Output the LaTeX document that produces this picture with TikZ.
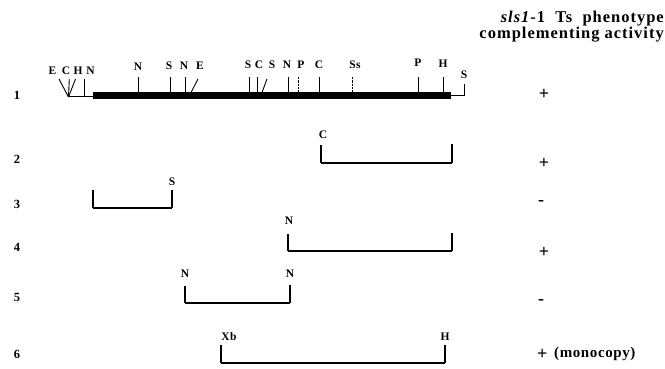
\documentclass[tikz,border=0pt]{standalone}
\usepackage{fontspec}
\setmainfont{Liberation Serif}[LetterSpace=4]
\newfontfamily\hdrfont{Liberation Serif}[LetterSpace=6]
\begin{document}
\begin{tikzpicture}[x=1pt,y=-1pt,
  lab/.style={font=\bfseries\fontsize{11.5}{11.5}\selectfont, inner sep=0pt},
  rownum/.style={font=\bfseries\fontsize{12.5}{12.5}\selectfont, inner sep=0pt},
  sign/.style={font=\bfseries\fontsize{18}{18}\selectfont, inner sep=0pt},
  mono/.style={font=\bfseries\fontsize{15}{15}\selectfont, inner sep=0pt},
  hdr/.style={font=\hdrfont\bfseries\fontsize{16.5}{13.5}\selectfont, inner sep=0pt, align=right},
  tickline/.style={line width=0.9pt},
  brokentick/.style={line width=0.9pt, dash pattern=on 2.5pt off 0.8pt},
  mapbar/.style={line width=7pt},
  thinline/.style={line width=1pt},
  brk/.style={line width=1.3pt},
  brkbase/.style={line width=2.6pt}]
\useasboundingbox (0,0) rectangle (665,369);

% header
\node[hdr, anchor=north east] (head) at (664,11) {\textit{sls1}-1\ \ Ts\ \ phenotype\\complementing activity};

% ---- row 1: map ----
\coordinate (b1) at (93,96);
\coordinate (b2) at (451,96);
\draw[mapbar] (b1) -- (b2);
\coordinate (v) at (68.5,97);
\coordinate (b1t) at (93,97);
\draw[thinline] (v) -- (b1t);
\coordinate (eT) at (59,79); \coordinate (cT) at (69.3,79); \coordinate (hT) at (75.5,79);
\draw[tickline] (eT) -- (v);
\draw[tickline] (cT) -- (v);
\draw[tickline] (hT) -- (v);
\coordinate (nT) at (84,79); \coordinate (nB) at (84,97);
\draw[tickline] (nT) -- (nB);
\foreach \x/\n in {138/a,170/b,185/c,249/d,257/e,288/f,319/g,418/h,443/i}{
  \coordinate (t\n) at (\x,77); \coordinate (u\n) at (\x,92.5);
  \draw[tickline] (t\n) -- (u\n);
}
\foreach \x/\n in {298/j,352/k}{
  \coordinate (t\n) at (\x,77); \coordinate (u\n) at (\x,92.5);
  \draw[brokentick] (t\n) -- (u\n);
}
\coordinate (eaT) at (198,79); \coordinate (eaB) at (191,92.5);
\draw[tickline] (eaT) -- (eaB);
\coordinate (sbT) at (267,79); \coordinate (sbB) at (262,92.5);
\draw[tickline] (sbT) -- (sbB);
\coordinate (r2) at (464,96); \coordinate (r3) at (464,84);
\draw[thinline] (b2) -- (r2) -- (r3);

\node[lab] (lE) at (52.5,71) {E};
\node[lab] (lC) at (66,71) {C};
\node[lab] (lH) at (78,71) {H};
\node[lab] (lN) at (90.5,71) {N};
\node[lab] (l1) at (138,67) {N};
\node[lab] (l2) at (169,66) {S};
\node[lab] (l3) at (184,66) {N};
\node[lab] (l4) at (200,66) {E};
\node[lab] (l5) at (248,65) {S};
\node[lab] (l6) at (259,65) {C};
\node[lab] (l7) at (272,65) {S};
\node[lab] (l8) at (287,65) {N};
\node[lab] (l9) at (301,65) {P};
\node[lab] (l10) at (319,65) {C};
\node[lab] (l11) at (355,65) {Ss};
\node[lab] (l12) at (418,63) {P};
\node[lab] (l13) at (443,64) {H};
\node[lab] (l14) at (464,75) {S};

% ---- brackets rows 2-6 ----
% row 2
\coordinate (p2a) at (321,145); \coordinate (p2b) at (321,163);
\coordinate (p2c) at (452,163); \coordinate (p2d) at (452,144);
\draw[brk] (p2a) -- (p2b); \draw[brk] (p2c) -- (p2d); \draw[brkbase] (p2b) -- (p2c);
\node[lab] (c2) at (323,135) {C};
% row 3
\coordinate (p3a) at (93,190); \coordinate (p3b) at (93,208);
\coordinate (p3c) at (172,208); \coordinate (p3d) at (172,190);
\draw[brk] (p3a) -- (p3b); \draw[brk] (p3c) -- (p3d); \draw[brkbase] (p3b) -- (p3c);
\node[lab] (s3) at (172,182) {S};
% row 4
\coordinate (p4a) at (288,234); \coordinate (p4b) at (288,251);
\coordinate (p4c) at (452,251); \coordinate (p4d) at (452,233);
\draw[brk] (p4a) -- (p4b); \draw[brk] (p4c) -- (p4d); \draw[brkbase] (p4b) -- (p4c);
\node[lab] (n4) at (289,221) {N};
% row 5
\coordinate (p5a) at (185,286); \coordinate (p5b) at (185,303);
\coordinate (p5c) at (290,303); \coordinate (p5d) at (290,285);
\draw[brk] (p5a) -- (p5b); \draw[brk] (p5c) -- (p5d); \draw[brkbase] (p5b) -- (p5c);
\node[lab] (n5a) at (185,274) {N};
\node[lab] (n5b) at (290,274) {N};
% row 6
\coordinate (p6a) at (221,345); \coordinate (p6b) at (221,363);
\coordinate (p6c) at (445,363); \coordinate (p6d) at (445,345);
\draw[brk] (p6a) -- (p6b); \draw[brk] (p6c) -- (p6d); \draw[brkbase] (p6b) -- (p6c);
\node[lab] (x6) at (229,337) {Xb};
\node[lab] (h6) at (445,337) {H};

% ---- row numbers ----
\node[rownum] (r1n) at (17,95) {1};
\node[rownum] (r2n) at (17,159) {2};
\node[rownum] (r3n) at (17,204) {3};
\node[rownum] (r4n) at (17,247) {4};
\node[rownum] (r5n) at (17,297) {5};
\node[rownum] (r6n) at (17,354) {6};

% ---- activity ----
\node[sign] (a1) at (544,94) {+};
\node[sign] (a2) at (544,163) {+};
\node[sign] (a3) at (541,203) {-};
\node[sign] (a4) at (544,252) {+};
\node[sign] (a5) at (541,302) {-};
\node[sign, anchor=west] (a6) at (537,354) {+};
\node[mono, anchor=west] (a6t) at (554,354) {(monocopy)};
\end{tikzpicture}
\end{document}
